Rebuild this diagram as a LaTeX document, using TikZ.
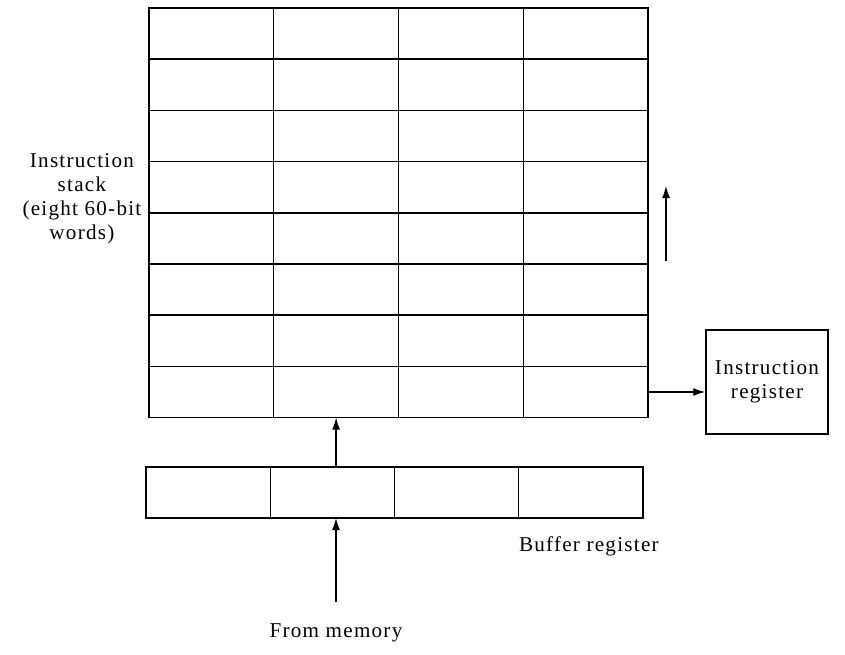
\documentclass[tikz,border=0pt]{standalone}
\usepackage{fontspec}
\setmainfont[LetterSpace=6]{Liberation Serif}
\usepackage{tikz}
\usetikzlibrary{arrows.meta,positioning}

\begin{document}
\begin{tikzpicture}[
    x=0.025cm, y=-0.025cm,
    every node/.style={font=\fontsize{15pt}{17pt}\selectfont},
    cell/.style={draw, line width=1pt, inner sep=0pt, outer sep=0pt, minimum width=3.119cm, minimum height=1.28cm},
    bufcell/.style={cell, minimum width=3.106cm, minimum height=1.275cm},
    regbox/.style={draw, line width=1pt, align=center, minimum width=3.05cm, minimum height=2.6cm},
    arr/.style={-{Latex[length=3mm, width=2mm]}, line width=0.9pt}
]
\useasboundingbox (0,0) rectangle (845,655);

% instruction stack, 8 words of 4 parts
\foreach \r in {1,...,8}
  \foreach \c in {1,...,4}
    \node[cell] (st-\r-\c) at ({149+124.75*(\c-0.5)}, {8+51.2*(\r-0.5)}) {};

% buffer register
\foreach \c in {1,...,4}
  \node[bufcell] (buf-\c) at ({146+124.25*(\c-0.5)}, 492.5) {};

\node[regbox, inner sep=1pt] (ir) at (767,382) {Instruction\\register};
\node[align=center, anchor=east, inner sep=1pt] (stlbl) at (143,199) {Instruction\\stack\\(eight 60-bit\\words)};
\node[anchor=north west, inner sep=0pt] (buflbl) at ([yshift=-0.45cm]buf-4.south west) {Buffer register};
\node (mem) at (336,633) {From memory};

\coordinate (memtail) at (336,602);
\coordinate (uptail) at (666,261);
\coordinate (uphead) at (666,186);

\draw[arr] (st-8-4.east) -- (st-8-4.east -| ir.west);
\draw[arr] (buf-2.north -| st-8-2.south) -- (st-8-2.south);
\draw[arr] (memtail) -- (memtail |- buf-2.south);
\draw[arr] (uptail) -- (uphead);
\end{tikzpicture}
\end{document}
